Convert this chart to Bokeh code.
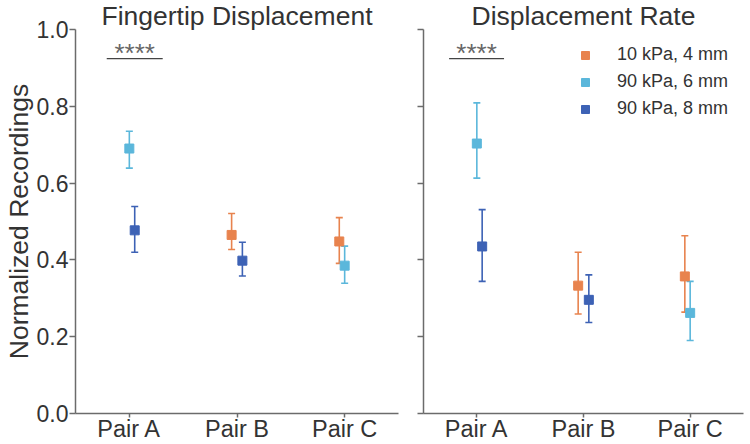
from bokeh.plotting import figure
from bokeh.layouts import row
from bokeh.models import (ColumnDataSource, FactorRange, Range1d, FixedTicker,
                          PrintfTickFormatter, CustomJSTickFormatter, Whisker,
                          TeeHead, Label, Legend, LegendItem)
from bokeh.transform import dodge
from bokeh.embed import file_html
from bokeh.resources import INLINE

# ---------------- data ----------------
pairs = ["Pair A", "Pair B", "Pair C"]
series_names = ["10 kPa, 4 mm", "90 kPa, 6 mm", "90 kPa, 8 mm"]
series_colors = ["#E8834E", "#5BB7DB", "#3D62B5"]
series_offsets = [-0.05, 0.0, 0.05]

# Fingertip Displacement
fd_orange_pairs = ["Pair B", "Pair C"]
fd_orange_mean = [0.465, 0.448]
fd_orange_low = [0.427, 0.391]
fd_orange_high = [0.521, 0.510]

fd_cyan_pairs = ["Pair A", "Pair C"]
fd_cyan_mean = [0.690, 0.385]
fd_cyan_low = [0.639, 0.339]
fd_cyan_high = [0.735, 0.436]

fd_dark_pairs = ["Pair A", "Pair B"]
fd_dark_mean = [0.477, 0.398]
fd_dark_low = [0.420, 0.358]
fd_dark_high = [0.539, 0.446]

# Displacement Rate
dr_orange_pairs = ["Pair B", "Pair C"]
dr_orange_mean = [0.333, 0.357]
dr_orange_low = [0.259, 0.264]
dr_orange_high = [0.420, 0.463]

dr_cyan_pairs = ["Pair A", "Pair C"]
dr_cyan_mean = [0.703, 0.262]
dr_cyan_low = [0.613, 0.190]
dr_cyan_high = [0.809, 0.344]

dr_dark_pairs = ["Pair A", "Pair B"]
dr_dark_mean = [0.435, 0.296]
dr_dark_low = [0.344, 0.237]
dr_dark_high = [0.531, 0.361]

y_ticks = [0.0, 0.2, 0.4, 0.6, 0.8, 1.0]
sig_pair = "Pair A"
sig_text = "****"
sig_y = 0.924
sig_span_fd = (-0.21, 0.31)
sig_span_dr = (-0.26, 0.255)

FONT = "Liberation Sans"
TXT = "#333333"
AXC = "#6b6b6b"
H = 444


def make_panel(title, series, width, border_left, border_right, show_ylabels, sig_span):
    p = figure(x_range=FactorRange(*pairs), y_range=Range1d(0, 1.0),
               width=width, height=H, output_backend="svg",
               toolbar_location=None, min_border_left=border_left,
               min_border_right=border_right, min_border_top=29,
               min_border_bottom=31, title=title)
    p.title.text_font = FONT
    p.title.text_font_size = "26.5px"
    p.title.text_font_style = "normal"
    p.title.text_color = TXT
    p.title.align = "center"
    p.title.standoff = -3
    p.grid.visible = False
    p.outline_line_color = None
    p.background_fill_color = "white"
    p.border_fill_color = "white"

    for ax in (p.xaxis[0], p.yaxis[0]):
        ax.axis_line_color = AXC
        ax.axis_line_width = 1.5
        ax.major_tick_line_color = AXC
        ax.major_tick_line_width = 1.5
        ax.major_tick_in = 0
        ax.minor_tick_line_color = None
        ax.major_label_text_font = FONT
        ax.major_label_text_color = TXT
    p.xaxis[0].major_tick_out = 4
    p.xaxis[0].major_label_standoff = -2
    p.xaxis[0].major_label_text_font_size = "23.5px"
    p.yaxis[0].major_tick_out = 6
    p.yaxis[0].major_label_standoff = 1
    p.yaxis[0].major_label_text_font_size = "23px"
    p.yaxis[0].ticker = FixedTicker(ticks=y_ticks)
    if show_ylabels:
        p.yaxis[0].formatter = PrintfTickFormatter(format="%.1f")
        p.yaxis[0].axis_label = "Normalized Recordings"
        p.yaxis[0].axis_label_text_font = FONT
        p.yaxis[0].axis_label_text_font_size = "26.5px"
        p.yaxis[0].axis_label_text_font_style = "normal"
        p.yaxis[0].axis_label_text_color = TXT
        p.yaxis[0].axis_label_standoff = 0
    else:
        p.yaxis[0].formatter = CustomJSTickFormatter(code="return ''")
        p.yaxis[0].major_label_standoff = 0

    renderers = []
    for (prs, mean, low, high), color, off in zip(series, series_colors, series_offsets):
        src = ColumnDataSource(dict(pair=prs, mean=mean, low=low, high=high))
        xs = dodge("pair", off, range=p.x_range)
        w = Whisker(base=xs, upper="high", lower="low", source=src,
                    line_color=color, line_width=1.6,
                    upper_head=TeeHead(size=7, line_color=color, line_width=1.6),
                    lower_head=TeeHead(size=7, line_color=color, line_width=1.6))
        p.add_layout(w)
        r = p.scatter(x=xs, y="mean", source=src, marker="square", size=9,
                      fill_color=color, line_color=color)
        renderers.append(r)

    idx = pairs.index(sig_pair) + 0.5
    x0, x1 = idx + sig_span[0], idx + sig_span[1]
    p.segment(x0=[x0], y0=[sig_y], x1=[x1], y1=[sig_y], line_color="#444444", line_width=1.3)
    p.add_layout(Label(x=(x0 + x1) / 2, y=sig_y, text=sig_text, text_align="center",
                       text_baseline="alphabetic", y_offset=6, text_font=FONT,
                       text_font_size="26px", text_color="#666666"))
    return p, renderers


p1, _ = make_panel("Fingertip Displacement",
                   [(fd_orange_pairs, fd_orange_mean, fd_orange_low, fd_orange_high),
                    (fd_cyan_pairs, fd_cyan_mean, fd_cyan_low, fd_cyan_high),
                    (fd_dark_pairs, fd_dark_mean, fd_dark_low, fd_dark_high)],
                   400, 74, 2, True, sig_span_fd)
p2, rs = make_panel("Displacement Rate",
                    [(dr_orange_pairs, dr_orange_mean, dr_orange_low, dr_orange_high),
                     (dr_cyan_pairs, dr_cyan_mean, dr_cyan_low, dr_cyan_high),
                     (dr_dark_pairs, dr_dark_mean, dr_dark_low, dr_dark_high)],
                    350, 23, 7, False, sig_span_dr)

legend = Legend(items=[LegendItem(label=n, renderers=[r]) for n, r in zip(series_names, rs)],
                location=(152, 294), border_line_color=None, background_fill_alpha=0,
                padding=0, margin=0, spacing=6, glyph_width=20, glyph_height=20,
                label_standoff=22, label_text_font=FONT, label_text_font_size="18px",
                label_text_color=TXT)
p2.add_layout(legend)

layout = row(p1, p2)
open("out.html", "w").write(file_html(layout, INLINE))
